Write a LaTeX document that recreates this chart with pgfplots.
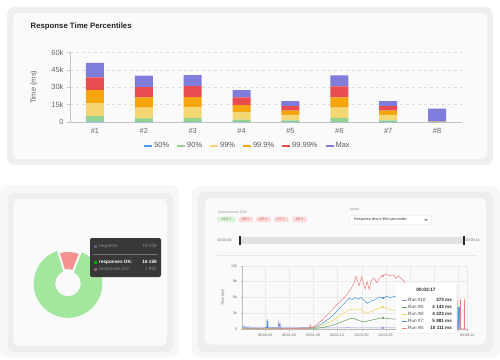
\documentclass[border=0pt]{standalone}
\usepackage{pgfplots}
\usepackage{pgfplotstable}
\pgfplotsset{compat=1.18}
\usepackage{fontspec}
\setmainfont{Liberation Sans}
\newcommand{\fs}[1]{\fontsize{#1}{#1}\selectfont}
\definecolor{c50}{HTML}{4C9BE8}
\definecolor{c90}{HTML}{96D290}
\definecolor{c99}{HTML}{F4D672}
\definecolor{c999}{HTML}{F5A50E}
\definecolor{c9999}{HTML}{E84B50}
\definecolor{cmax}{HTML}{7F7CDB}
\definecolor{frame}{HTML}{ECEEF0}
\definecolor{card}{HTML}{FAFAFB}
\definecolor{outer}{HTML}{F6F7F8}
\definecolor{tick}{HTML}{666666}
\definecolor{titlec}{HTML}{222222}
\definecolor{axisc}{HTML}{C4C4C4}
\definecolor{gridc}{HTML}{DDDDDD}
\definecolor{lgrid}{HTML}{EAEAEA}
\definecolor{lgrid2}{HTML}{BBBBBB}
\definecolor{okg}{HTML}{A2E79D}
\definecolor{kor}{HTML}{F39290}
\definecolor{ttdark}{HTML}{383838}
\definecolor{r10}{HTML}{8C89D9}
\definecolor{r9}{HTML}{5E9E5B}
\definecolor{r8}{HTML}{EFD34E}
\definecolor{r7}{HTML}{4F93DA}
\definecolor{r6}{HTML}{EF8080}
\definecolor{chipgb}{HTML}{DDF2DB}
\definecolor{chipgt}{HTML}{3E9B3E}
\definecolor{chiprb}{HTML}{FADADA}
\definecolor{chiprt}{HTML}{D9534F}

\pgfplotsset{legsq/.style={legend image code/.code={\fill[##1] (0bp,-1.4bp) rectangle (8bp,1.4bp);}}}

\pgfplotstableread{
x p50 p90 p99 p999 p9999 pmax
1 300 4900 11200 11200 10900 12700
2 200 3000 9200 8900 8900 9800
3 200 3300 9200 8900 9400 9500
4 200 1800 6400 6300 6600 6300
5 100 1400 4300 4000 4000 4300
6 200 3300 8900 8900 9500 9500
7 100 1400 4300 4000 4000 4300
8 100 100 100 100 200 10900
}\bars

\pgfplotstableread{
t v
-4 300
-1 600
2 200
6 500
9 250
14 300
20 250
30 300
40 300
48 300
49 1400
50 300
51 1100
52 300
60 250
80 300
99 300
120 250
150 300
180 250
201 273
220 280
238 260
}\runten

\pgfplotstableread{
t v
-4 150
50 150
99 150
108 250
115 400
122 600
133 1000
145 1600
155 2100
160 2000
165 1700
172 1400
180 1600
190 1900
197 2100
201 2143
210 2000
220 1900
230 1800
238 1750
}\runnine

\pgfplotstableread{
t v
-4 200
20 200
50 200
80 200
99 250
105 400
110 600
116 900
122 1300
128 1700
133 2100
141 2800
150 3600
158 3800
165 3800
170 3700
175 3000
182 3300
190 3700
196 4000
201 4223
208 3900
215 3600
222 3400
230 3200
238 3000
}\runeight

\pgfplotstableread{
t v
-4 250
0 300
5 200
10 250
20 200
28 250
31.5 300
32 1900
32.6 300
33.2 1600
33.8 250
45 200
60 250
80 200
95 250
99 300
105 600
110 900
115 1300
120 1800
127 2500
133 3300
140 4300
147 5200
152 5900
156 5600
160 6000
165 5700
169 6000
174 5400
178 4900
183 5300
190 5600
196 6100
201 5881
206 6200
212 6000
218 6200
224 5900
232 5500
238 5200
}\runseven

\pgfplotstableread{
t v
-4 100
50 100
90 150
94 300
95 900
96 300
99 400
105 900
110 1500
115 2100
120 2800
127 3700
133 4600
140 5400
145 6000
150 6800
155 7800
159 8800
162 10000
166 8200
170 9900
175 7600
178 9000
181 7500
184 9200
188 9700
192 8800
197 9900
201 10111
206 10400
211 10100
216 10300
220 9600
224 10100
229 9400
233 8900
237 7000
240 5000
}\runsix

\def\okval{16159}
\def\koval{1955}

\begin{document}
\begin{tikzpicture}
\pgfmathsetmacro{\kang}{360*(\koval/1000)/(\okval/1000+\koval/1000)}
\pgfmathsetmacro{\ra}{68}
\pgfmathsetmacro{\rb}{68+\kang}
\pgfmathsetmacro{\rc}{68+360}
\begin{scope}[x=1bp,y=-1bp]
  \fill[white] (0,0) rectangle (500,359);
  % top panel
  \fill[frame, rounded corners=8bp] (7,7) rectangle (493,165);
  \fill[card, rounded corners=6bp] (13,13) rectangle (487,159);
  \node[anchor=west, font=\bfseries\fs{7.8}, text=titlec, inner sep=0] at (30.5,26.9) {Response Time Percentiles};
  % bottom left panel
  \fill[outer, rounded corners=8bp] (0,185) rectangle (179,357);
  \fill[frame, rounded corners=7bp] (7.5,193) rectangle (173.5,352);
  \fill[card, rounded corners=6bp] (13.5,199) rectangle (167,345.5);
  % bottom right panel
  \fill[outer, rounded corners=8bp] (192,186) rectangle (500,357);
  \fill[frame, rounded corners=7bp] (198,191.5) rectangle (493,352);
  \fill[card, rounded corners=6bp] (205,198) rectangle (486,344.5);
  % controls
  \node[anchor=west, font=\fs{3.4}, text=black!45, inner sep=0] at (218,212.3) {Selected runs (5/5)};
  \fill[chipgb, rounded corners=1.5bp] (217,216.5) rectangle (236,222.2);
  \node[font=\fs{3.8}, text=chipgt, inner sep=0] at (226.5,219.4) {\#10 ×};
  \fill[chiprb, rounded corners=1.5bp] (238.5,216.5) rectangle (253,222.2);
  \node[font=\fs{3.8}, text=chiprt, inner sep=0] at (245.7,219.4) {\#9 ×};
  \fill[chiprb, rounded corners=1.5bp] (256,216.5) rectangle (270.5,222.2);
  \node[font=\fs{3.8}, text=chiprt, inner sep=0] at (263.2,219.4) {\#8 ×};
  \fill[chiprb, rounded corners=1.5bp] (274,216.5) rectangle (288.5,222.2);
  \node[font=\fs{3.8}, text=chiprt, inner sep=0] at (281.2,219.4) {\#7 ×};
  \fill[chiprb, rounded corners=1.5bp] (292.5,216.5) rectangle (307,222.2);
  \node[font=\fs{3.8}, text=chiprt, inner sep=0] at (299.7,219.4) {\#6 ×};
  \node[anchor=west, font=\fs{3.4}, text=black!45, inner sep=0] at (350,209.3) {Metric};
  \filldraw[fill=white, draw=black!12, line width=0.3bp, rounded corners=1bp] (350,215.5) rectangle (431.7,224.5);
  \node[anchor=west, font=\fs{3.7}, text=black!80, inner sep=0] at (354,220) {Response time's 99th percentile};
  \draw[black!75, line width=0.4bp] (424.5,219) -- (426,220.5) -- (427.5,219);
  \node[anchor=west, font=\fs{3.6}, text=black!60, inner sep=0] at (217.5,240.5) {00:00:00};
  \fill[black!12] (240.5,237) rectangle (462.7,244.3);
  \fill[black!85] (238.7,236) rectangle (240.7,245);
  \fill[black!85] (462.5,236) rectangle (464.5,245);
  \node[anchor=west, font=\fs{3.6}, text=black!60, inner sep=0] at (465.5,240.5) {00:09:14};
  \draw[black!9, line width=0.4bp] (216.5,255) -- (477,255);
\end{scope}

% ---------------- bar chart ----------------
\begin{axis}[
  at={(70bp,-122bp)}, anchor=south west,
  scale only axis, width=392bp, height=69.4bp,
  xmin=0.49, xmax=8.51, ymin=0, ymax=60000,
  ybar stacked, bar width=18bp,
  axis x line*=bottom, axis y line*=left,
  axis line style={draw=axisc, line width=0.7bp, -},
  xtick={1,2,3,4,5,6,7,8},
  xticklabels={\#1,\#2,\#3,\#4,\#5,\#6,\#7,\#8},
  ytick={0,15000,30000,45000,60000},
  yticklabels={0,15k,30k,45k,60k},
  scaled y ticks=false,
  ymajorgrids, grid style={draw=gridc, dash pattern=on 3bp off 3bp, line width=0.5bp},
  xtick style={draw=none},
  ytick style={draw=axisc, line width=0.6bp},
  tick align=outside, major tick length=3bp,
  ticklabel style={font=\fs{7.5}, text=tick},
  ylabel={Time (ms)},
  ylabel style={font=\fs{7.5}, text=tick, at={(axis description cs:-0.092,0.5)}, anchor=center},
  legend style={at={(0.454,-0.346)}, anchor=center, draw=none, fill=none,
    font=\fs{7.5}, text=black!65, legend columns=6,
    /tikz/every even column/.append style={column sep=6bp}},
  clip=false,
]
\addplot[fill=c50, draw=none, legsq] table[x=x,y=p50]{\bars};
\addlegendentry{50\%}
\addplot[fill=c90, draw=none, legsq] table[x=x,y=p90]{\bars};
\addlegendentry{90\%}
\addplot[fill=c99, draw=none, legsq] table[x=x,y=p99]{\bars};
\addlegendentry{99\%}
\addplot[fill=c999, draw=none, legsq] table[x=x,y=p999]{\bars};
\addlegendentry{99.9\%}
\addplot[fill=c9999, draw=none, legsq] table[x=x,y=p9999]{\bars};
\addlegendentry{99.99\%}
\addplot[fill=cmax, draw=none, legsq] table[x=x,y=pmax]{\bars};
\addlegendentry{Max}
\end{axis}

% ---------------- donut ----------------
\begin{axis}[
  at={(68bp,-283.5bp)}, anchor=center,
  scale only axis, width=80bp, height=80bp,
  xmin=-40, xmax=40, ymin=-40, ymax=40,
  hide axis, clip=false,
]
\fill[okg] ([shift={(\rb:34.3bp)}]axis cs:0,0) arc[start angle=\rb, end angle=\rc, radius=34.3bp]
  -- ([shift={(\rc:12.8bp)}]axis cs:0,0) arc[start angle=\rc, end angle=\rb, radius=12.8bp] -- cycle;
\fill[kor] ([shift={(\ra:31.5bp)}]axis cs:0,0) arc[start angle=\ra, end angle=\rb, radius=31.5bp]
  -- ([shift={(\rb:14.5bp)}]axis cs:0,0) arc[start angle=\rb, end angle=\ra, radius=14.5bp] -- cycle;
\draw[card, line width=2bp] ([shift={(\ra:12bp)}]axis cs:0,0) -- ([shift={(\ra:35.5bp)}]axis cs:0,0);
\draw[card, line width=2bp] ([shift={(\rb:12bp)}]axis cs:0,0) -- ([shift={(\rb:35.5bp)}]axis cs:0,0);
\end{axis}

% ---------------- line chart ----------------
\begin{axis}[
  at={(242bp,-329.3bp)}, anchor=south west,
  scale only axis, width=225bp, height=63.6bp,
  xmin=-4.5, xmax=323.6, ymin=0, ymax=12000,
  axis x line*=bottom, axis y line*=left,
  axis line style={draw=lgrid2, line width=0.4bp, -},
  xtick={29,64,99,134,170,205,240,275,310,323.6},
  xticklabels={00:00:29,00:01:04,00:01:39,00:02:14,00:02:50,00:03:25,,,,00:09:14},
  ytick={0,3000,6000,9000,12000},
  yticklabels={0,3k,6k,9k,12k},
  scaled y ticks=false,
  grid=major, grid style={draw=lgrid, line width=0.35bp},
  tick align=outside, major tick length=1.5bp,
  tick style={draw=lgrid2, line width=0.3bp},
  ticklabel style={font=\fs{3.6}, text=tick},
  ylabel={Time (ms)},
  ylabel style={font=\fs{3.6}, text=tick, at={(axis description cs:-0.085,0.5)}, anchor=center},
  clip=false,
]
\addplot[r10, line width=0.5bp] table[x=t,y=v]{\runten};
\addplot[r9, line width=0.5bp] table[x=t,y=v]{\runnine};
\addplot[r8, line width=0.5bp] table[x=t,y=v]{\runeight};
\addplot[r7, line width=0.5bp] table[x=t,y=v]{\runseven};
\addplot[r6, line width=0.5bp] table[x=t,y=v]{\runsix};
\addplot[r6, line width=0.5bp] coordinates {(306,100) (308.5,100) (308.6,5600) (309.2,5600) (309.3,100) (313.5,100) (313.6,5600) (314.2,5600) (314.3,100) (319.5,100) (319.6,5600) (320.2,5600) (320.3,100) (322,100)};
\addplot[r7, line width=0.6bp] coordinates {(310,100) (310.5,4200) (311.2,4200) (311.7,100)};
\addplot[r10, line width=0.5bp] coordinates {(311.8,100) (312.2,4200) (312.8,4200) (313.2,100)};
\addplot[only marks, mark=*, mark size=0.9bp, r10] coordinates {(201,273)};
\addplot[only marks, mark=*, mark size=0.9bp, r9] coordinates {(201,2143)};
\addplot[only marks, mark=*, mark size=0.9bp, r8] coordinates {(201,4223)};
\addplot[only marks, mark=*, mark size=0.9bp, r7] coordinates {(201,5881)};
\addplot[only marks, mark=*, mark size=0.9bp, r6] coordinates {(201,10111)};
\end{axis}

% ---------------- tooltips ----------------
\begin{scope}[x=1bp,y=-1bp]
  % donut tooltip
  \fill[ttdark, rounded corners=2bp] (90,238) rectangle (161,277);
  \fill[r10!45!ttdark] (94.3,244.8) rectangle (97.3,247.8);
  \node[anchor=west, font=\fs{4.7}, text=black!45, inner sep=0] at (99,246.3) {requests:};
  \node[anchor=east, font=\fs{4.7}, text=black!45, inner sep=0] at (157,246.3) {18 208};
  \draw[black!55, line width=0.4bp] (93,254) -- (158,254);
  \fill[green!70!black] (94.3,260.5) rectangle (97.3,263.5);
  \node[anchor=west, font=\bfseries\fs{4.7}, text=white, inner sep=0] at (99,262) {responses OK:};
  \node[anchor=east, font=\bfseries\fs{4.7}, text=white, inner sep=0] at (157,262) {16 159};
  \fill[kor!45!ttdark] (94.3,267.8) rectangle (97.3,270.8);
  \node[anchor=west, font=\fs{4.7}, text=black!45, inner sep=0] at (99,269.3) {responses KO:};
  \node[anchor=east, font=\fs{4.7}, text=black!45, inner sep=0] at (157,269.3) {1 955};
  % line chart tooltip
  \fill[black!6, rounded corners=2bp] (396.6,283.8) rectangle (456.8,333.8);
  \fill[white, rounded corners=2bp] (396,283) rectangle (456,333);
  \node[font=\bfseries\fs{4.8}, text=black!85, inner sep=0] at (426,290.3) {00:03:17};
  \draw[r10, line width=1bp] (401.7,300.3) -- (406.5,300.3);
  \node[anchor=west, font=\fs{4.6}, text=black!75, inner sep=0] at (408,300.3) {Run \#10:};
  \node[anchor=east, font=\bfseries\fs{4.6}, text=black!85, inner sep=0] at (452,300.3) {273 ms};
  \draw[r9, line width=1bp] (401.7,307.3) -- (406.5,307.3);
  \node[anchor=west, font=\fs{4.6}, text=black!75, inner sep=0] at (408,307.3) {Run \#9:};
  \node[anchor=east, font=\bfseries\fs{4.6}, text=black!85, inner sep=0] at (452,307.3) {2 143 ms};
  \draw[r8, line width=1bp] (401.7,314.2) -- (406.5,314.2);
  \node[anchor=west, font=\fs{4.6}, text=black!75, inner sep=0] at (408,314.2) {Run \#8:};
  \node[anchor=east, font=\bfseries\fs{4.6}, text=black!85, inner sep=0] at (452,314.2) {4 223 ms};
  \draw[r7, line width=1bp] (401.7,321.2) -- (406.5,321.2);
  \node[anchor=west, font=\fs{4.6}, text=black!75, inner sep=0] at (408,321.2) {Run \#7:};
  \node[anchor=east, font=\bfseries\fs{4.6}, text=black!85, inner sep=0] at (452,321.2) {5 881 ms};
  \draw[r6, line width=1bp] (401.7,328.1) -- (406.5,328.1);
  \node[anchor=west, font=\fs{4.6}, text=black!75, inner sep=0] at (408,328.1) {Run \#6:};
  \node[anchor=east, font=\bfseries\fs{4.6}, text=black!85, inner sep=0] at (452,328.1) {10 111 ms};
\end{scope}
\end{tikzpicture}
\end{document}
